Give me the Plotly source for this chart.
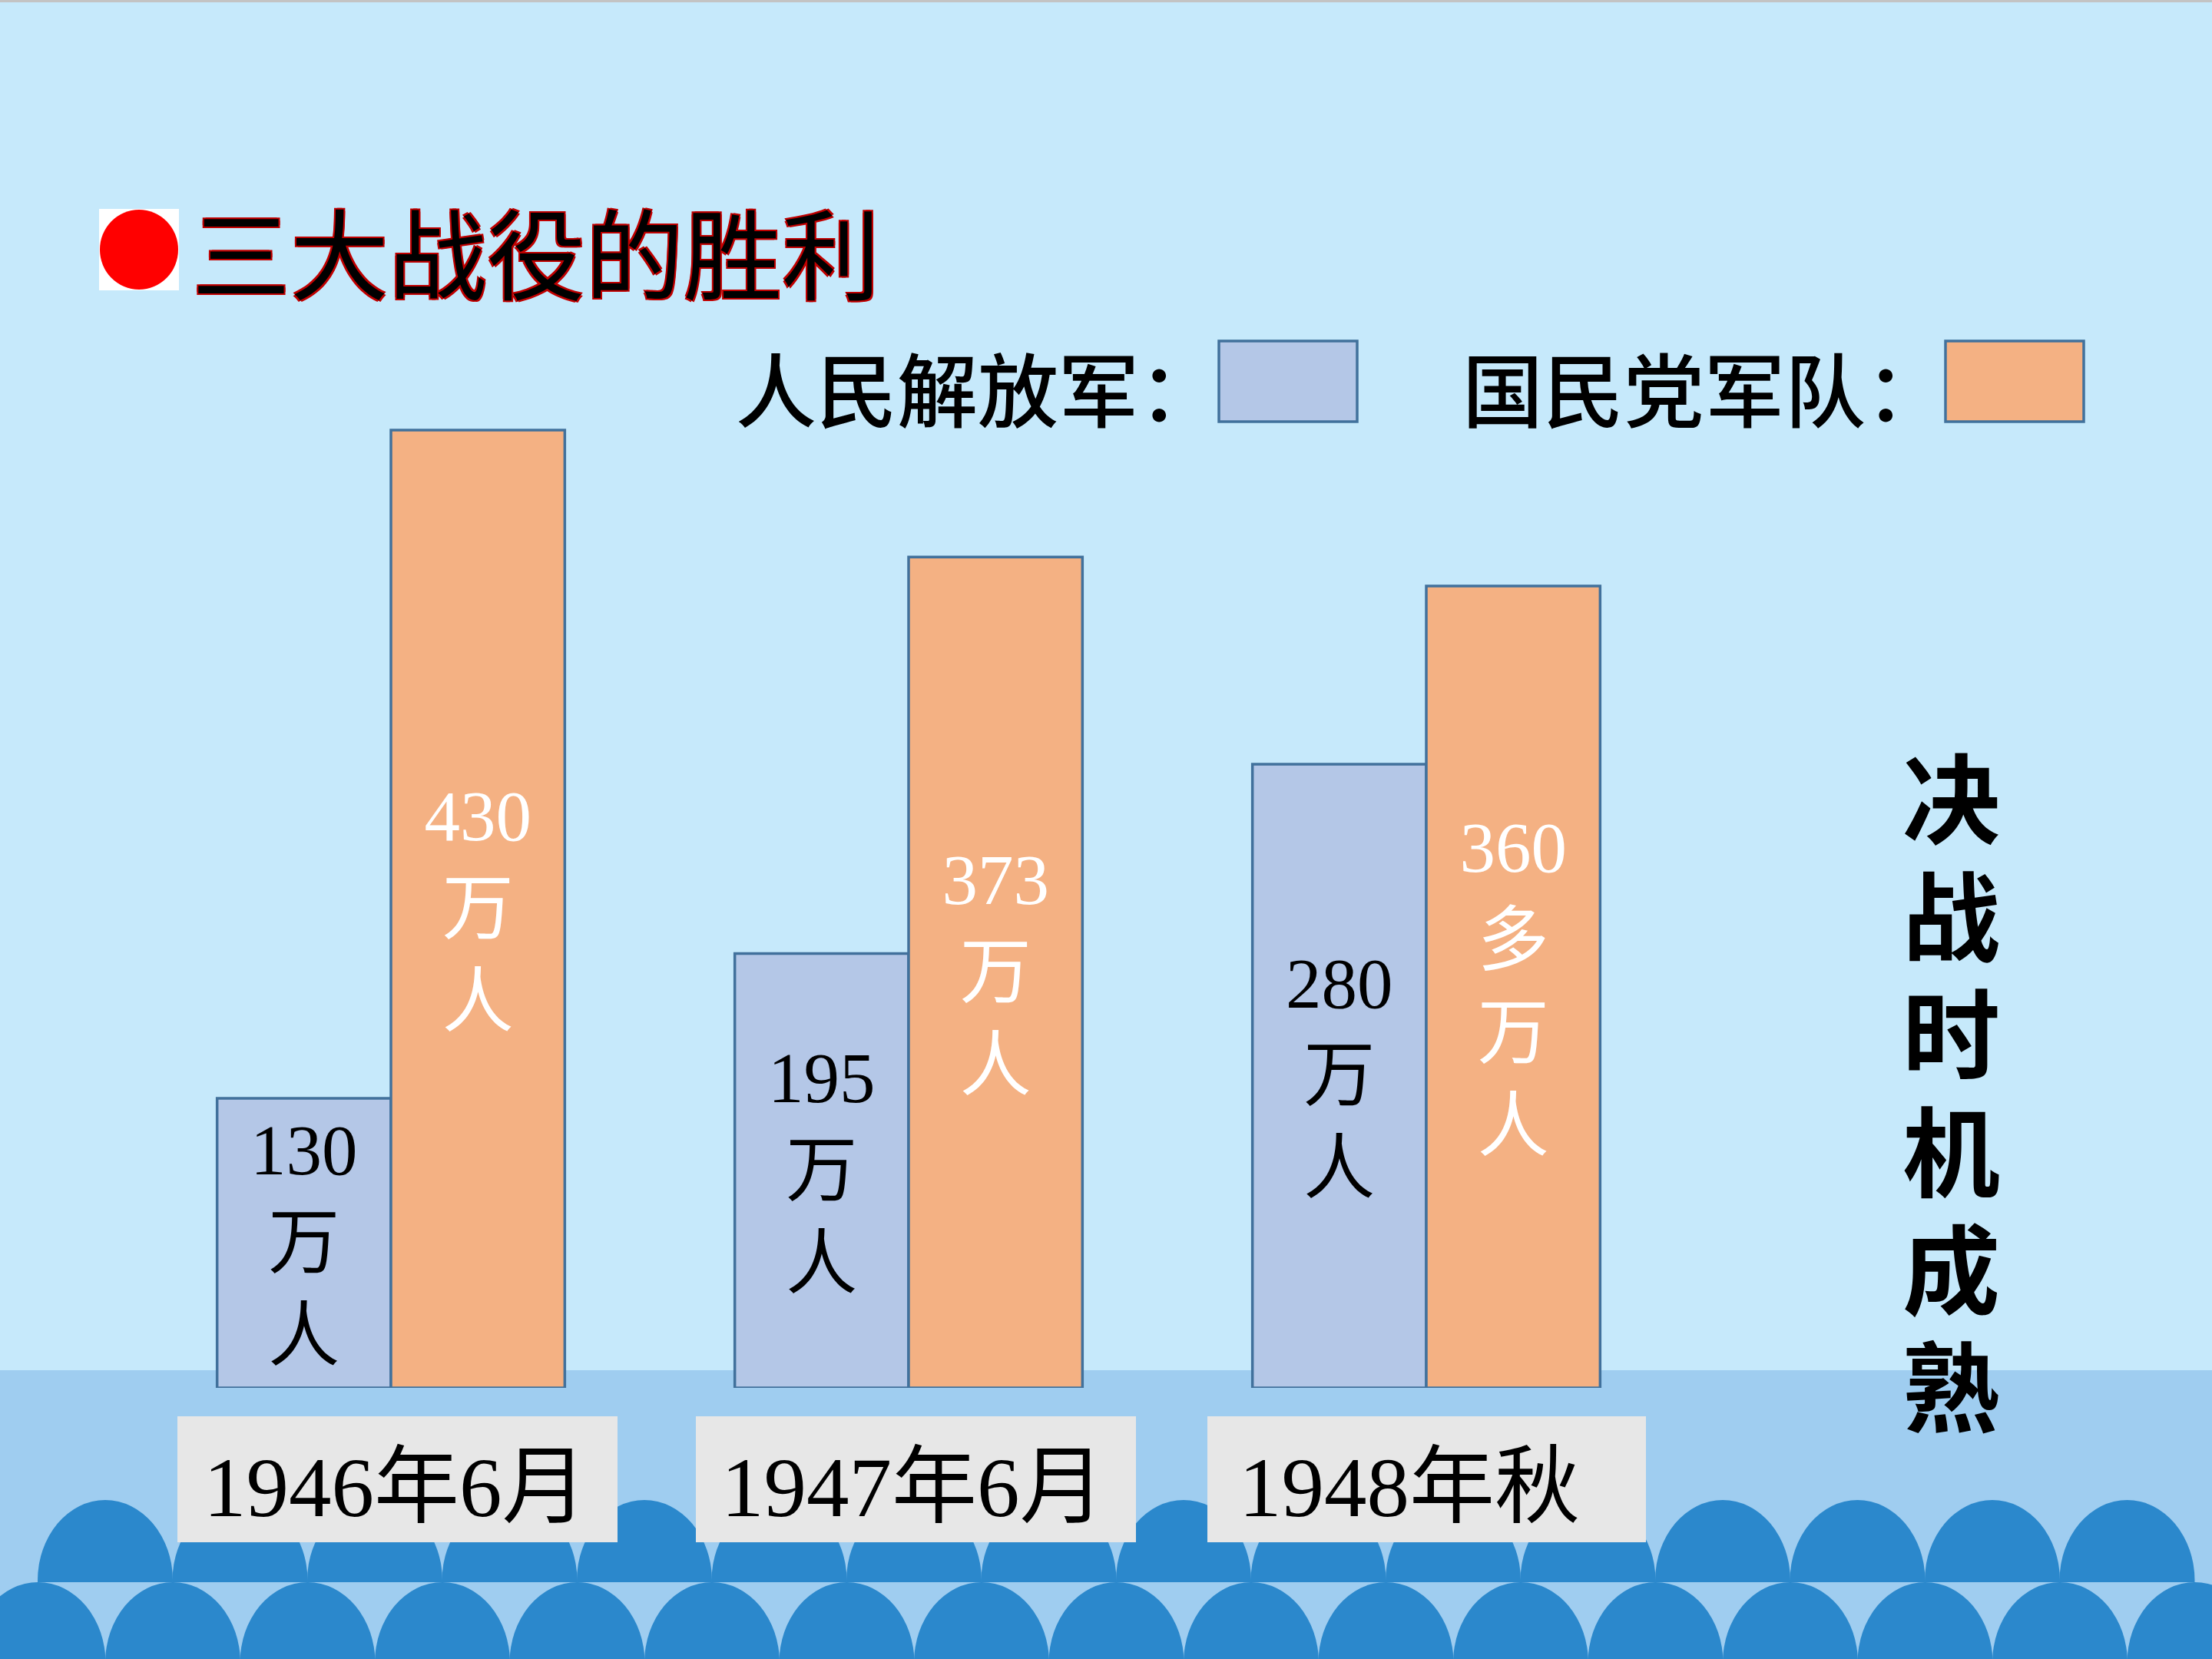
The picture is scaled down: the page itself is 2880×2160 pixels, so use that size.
import plotly.graph_objects as go

# ---------------- data ----------------
categories = ["1946年6月", "1947年6月", "1948年秋"]
pla_values = [130, 195, 280]          # 人民解放军 (万人)
kmt_values = [430, 373, 360]          # 国民党军队 (万人)
pla_labels = ["130<br>万<br>人", "195<br>万<br>人", "280<br>万<br>人"]
kmt_labels = ["430<br>万<br>人", "373<br>万<br>人", "360<br>多<br>万<br>人"]
series_names = ["人民解放军：", "国民党军队："]
title_text = "三大战役的胜利"
side_text = "决战时机成熟"

# ---------------- styling ----------------
W, H = 2880, 2160
BG_TOP = "#c6e9fb"
BG_BAND = "#9fcdf0"
WAVE = "#2b88cc"
BLUE = "#b4c7e7"
ORANGE = "#f4b183"
EDGE = "#41719c"
BOX_GREY = "#e7e7e7"
CJK = "Noto Sans CJK SC"
SERIF_MIX = "Liberation Serif, Noto Sans CJK SC"


def px(x):
    return x / W


def py(y):
    return 1 - y / H


fig = go.Figure()

fig.add_trace(go.Bar(
    x=categories, y=pla_values, name=series_names[0],
    marker=dict(color=BLUE, line=dict(color=EDGE, width=3.5)),
    text=pla_labels, textposition="inside", insidetextanchor="middle",
    textangle=0, constraintext="none",
    textfont=dict(family=SERIF_MIX, size=93, color="black"),
    hoverinfo="skip",
))
fig.add_trace(go.Bar(
    x=categories, y=kmt_values, name=series_names[1],
    marker=dict(color=ORANGE, line=dict(color=EDGE, width=3.5)),
    text=kmt_labels, textposition="inside", insidetextanchor="middle",
    textangle=0, constraintext="none",
    textfont=dict(family=SERIF_MIX, size=93, color="white"),
    hoverinfo="skip",
))

shapes = []
# top thin grey line
shapes.append(dict(type="rect", xref="paper", yref="paper", x0=0, x1=1,
                   y0=py(3), y1=1, fillcolor="#c3c3c3", line_width=0, layer="below"))
# lower band
shapes.append(dict(type="rect", xref="paper", yref="paper", x0=0, x1=1,
                   y0=0, y1=py(1784), fillcolor=BG_BAND, line_width=0, layer="below"))
# back row of waves
step = 175.5
half = 88
for k in range(16):
    c = 137 + step * k
    shapes.append(dict(type="circle", xref="paper", yref="paper",
                       x0=px(c - half), x1=px(c + half), y0=py(2163), y1=py(1953),
                       fillcolor=WAVE, line_width=0, layer="below"))
shapes.append(dict(type="rect", xref="paper", yref="paper", x0=0, x1=1,
                   y0=py(2170), y1=py(2060), fillcolor=BG_BAND, line_width=0, layer="below"))
# front row of waves
for k in range(17):
    c = 49.5 + step * k
    shapes.append(dict(type="circle", xref="paper", yref="paper",
                       x0=px(c - half), x1=px(c + half), y0=py(2270), y1=py(2060),
                       fillcolor=WAVE, line_width=0, layer="below"))
# grey category boxes
box_offsets = [(-278, 295), (-277, 296), (-285, 286)]
for i, (a, b) in enumerate(box_offsets):
    shapes.append(dict(type="rect", xref="x", yref="paper", xsizemode="pixel",
                       xanchor=i, x0=a, x1=b, y0=py(2008), y1=py(1844),
                       fillcolor=BOX_GREY, line_width=0, layer="below"))
# legend swatches
for (x0, x1), col in [((1587, 1767), BLUE), ((2533, 2713), ORANGE)]:
    shapes.append(dict(type="rect", xref="paper", yref="paper",
                       x0=px(x0), x1=px(x1), y0=py(549), y1=py(444),
                       fillcolor=col, line=dict(color=EDGE, width=3.5), layer="below"))
# title bullet
shapes.append(dict(type="rect", xref="paper", yref="paper", x0=px(129), x1=px(233),
                   y0=py(378), y1=py(272), fillcolor="white", line_width=0, layer="below"))
shapes.append(dict(type="circle", xref="paper", yref="paper", x0=px(130), x1=px(232),
                   y0=py(377), y1=py(273), fillcolor="#ff0000", line_width=0, layer="below"))

annotations = []
# title
annotations.append(dict(
    text=title_text, xref="paper", yref="paper", x=px(248), y=py(326),
    xanchor="left", yanchor="middle", showarrow=False,
    font=dict(family=CJK, size=128, color="black",
              shadow="-2px -2px 0 #c00000, 2px -2px 0 #c00000, -2px 2px 0 #c00000, 2px 2px 0 #c00000"),
))
# legend texts
for name, xr in zip(series_names, [1590, 2536]):
    annotations.append(dict(
        text=name, xref="paper", yref="paper", x=px(xr), y=py(502),
        xanchor="right", yanchor="middle", showarrow=False,
        font=dict(family=CJK, size=105, color="black", weight=500),
    ))
# category labels
for cat in categories:
    annotations.append(dict(
        text=cat, xref="x", yref="paper", x=cat, y=py(1936),
        xanchor="left", yanchor="middle", xshift=-246, showarrow=False,
        font=dict(family=SERIF_MIX, size=111, color="black"),
    ))
# vertical side text, one character per slot
for j, ch in enumerate(side_text):
    annotations.append(dict(
        text=ch, xref="paper", yref="paper", x=px(2540), y=py(1034 + 153.2 * j),
        xanchor="center", yanchor="middle", showarrow=False, height=150,
        font=dict(family=CJK, size=127, color="black", weight="bold"),
    ))

fig.update_layout(
    width=W, height=H,
    margin=dict(l=0, r=0, t=0, b=0),
    paper_bgcolor=BG_TOP, plot_bgcolor="rgba(0,0,0,0)",
    showlegend=False,
    barmode="group", bargap=0.3284, bargroupgap=0,
    xaxis=dict(domain=[172 / W, 2194 / W], range=[-0.5, 2.5], type="category",
               showticklabels=False, showgrid=False, zeroline=False, showline=False, ticks=""),
    yaxis=dict(domain=[py(1807), py(67)], range=[0, 600], visible=False,
               showgrid=False, zeroline=False),
    shapes=shapes,
    annotations=annotations,
)

fig.write_html("out.html")
